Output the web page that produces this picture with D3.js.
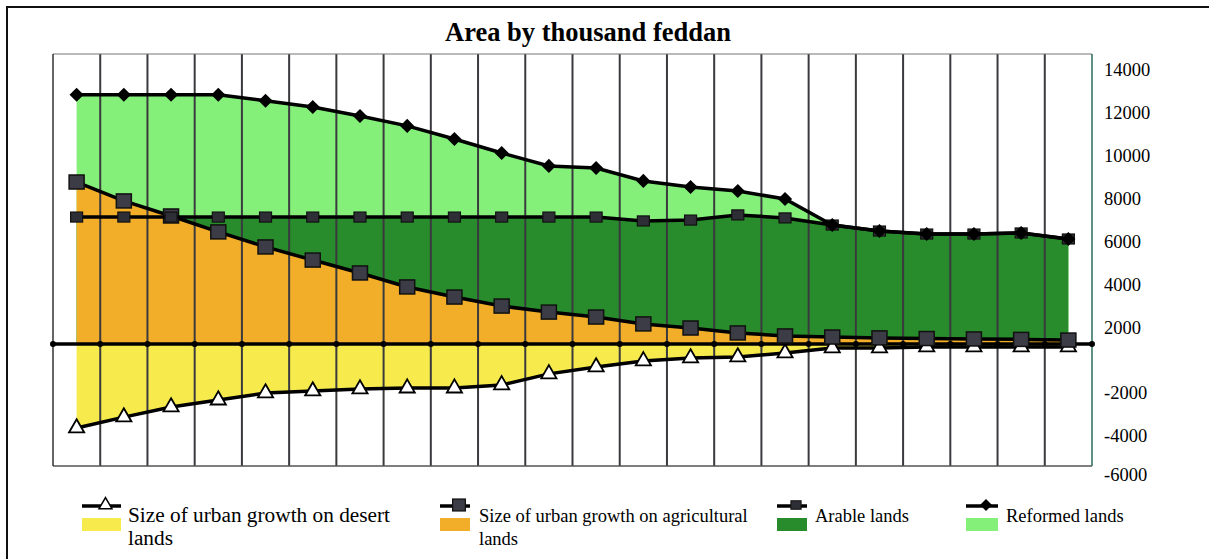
<!DOCTYPE html>
<meta charset="utf-8">
<style>
    body {
        margin: 0;
        overflow: hidden;
        background: #fff;
    }

    text {
      font-family: "Liberation Serif", "Times New Roman", serif;
      fill: #000;
    }

</style>
<svg id="canvas" width="1209" height="559"></svg>
<script src="https://d3js.org/d3.v7.min.js"></script>
<script>

    // one point per period, no labels on the x axis
    var periods = [1, 2, 3, 4, 5, 6, 7, 8, 9, 10, 11, 12, 13, 14, 15, 16, 17, 18, 19, 20, 21, 22];

    var reformed = [12850, 12850, 12850, 12850, 12570, 12280, 11860, 11400, 10790, 10140, 9540, 9440,
                    8840, 8560, 8370, 8000, 6790, 6510, 6370, 6370, 6420, 6140];
    var arable = [7160, 7160, 7160, 7160, 7160, 7160, 7160, 7160, 7160, 7160, 7160, 7160,
                  6980, 7020, 7260, 7120, 6790, 6510, 6370, 6370, 6420, 6140];
    var agricultural = [8790, 7910, 7210, 6470, 5770, 5160, 4560, 3910, 3440, 3020, 2740, 2510,
                        2190, 2000, 1770, 1630, 1580, 1540, 1510, 1490, 1470, 1440];
    var desert = [-3630, -3120, -2650, -2330, -2000, -1920, -1840, -1800, -1800, -1670, -1220, -940,
                  -690, -570, -530, -370, -160, -160, -120, -120, -120, -120];

    var upperTicks = [2000, 4000, 6000, 8000, 10000, 12000, 14000];
    var lowerTicks = [-2000, -4000, -6000];

    var legendLabels = [
        ["Size of urban growth on desert", "lands"],
        ["Size of urban growth on agricultural", "lands"],
        ["Arable lands"],
        ["Reformed lands"]
    ];

    var colors = {
        reformed: "#84f07a",
        arable: "#288b2c",
        agricultural: "#f2ae29",
        desert: "#f6ea4c"
    };

    var serif = "'Liberation Serif', 'Times New Roman', serif";

    var svg = d3.select("svg");

    var plotLeft = 53, plotRight = 1092, plotTop = 54, plotBottom = 466;

    var x = d3.scaleBand().domain(periods).range([plotLeft, plotRight]);
    var cx = function(i) { return x(periods[i]) + x.bandwidth() / 2; };

    // the picture uses separate spacing above and below the zero line
    var yPos = d3.scaleLinear().domain([0, 14000]).range([371, 70]);
    var yNeg = d3.scaleLinear().domain([-6000, -4000, -2000, 0]).range([475, 436, 393, 344]);
    var zero = yNeg(0);

    // outer frame
    svg.append("path")
       .attr("d", "M7,559V7H1209")
       .attr("fill", "none")
       .attr("stroke", "#111")
       .attr("stroke-width", 2);

    svg.append("text")
       .attr("x", 588)
       .attr("y", 41)
       .attr("text-anchor", "middle")
       .attr("font-family", serif)
       .attr("font-weight", "bold")
       .attr("font-size", "26.5px")
       .text("Area by thousand feddan");

    var areaOf = function(values, scale) {
        return d3.area()
                 .x(function(d, i) { return cx(i); })
                 .y0(zero)
                 .y1(function(d) { return scale(d); })(values);
    };

    var areas = svg.append("g").attr("class", "areas");
    areas.append("path").attr("d", areaOf(reformed, yPos)).attr("fill", colors.reformed);
    areas.append("path").attr("d", areaOf(arable, yPos)).attr("fill", colors.arable);
    areas.append("path").attr("d", areaOf(agricultural, yPos)).attr("fill", colors.agricultural);
    areas.append("path").attr("d", areaOf(desert, yNeg)).attr("fill", colors.desert);

    // vertical grid
    var bounds = periods.map(function(p) { return x(p); }).concat([plotRight]);

    svg.append("g")
       .selectAll("line")
       .data(bounds.slice(1, -1))
       .enter().append("line")
       .attr("x1", function(d) { return d; })
       .attr("x2", function(d) { return d; })
       .attr("y1", plotTop)
       .attr("y2", plotBottom)
       .attr("stroke", "#3a3a3e")
       .attr("stroke-width", 2);

    var frame = svg.append("g");
    frame.append("line").attr("x1", plotLeft).attr("x2", plotRight).attr("y1", plotTop).attr("y2", plotTop)
         .attr("stroke", "#777").attr("stroke-width", 1.2);
    frame.append("line").attr("x1", plotLeft).attr("x2", plotRight).attr("y1", plotBottom).attr("y2", plotBottom)
         .attr("stroke", "#555").attr("stroke-width", 1.5);
    frame.append("line").attr("x1", plotLeft).attr("x2", plotLeft).attr("y1", plotTop).attr("y2", plotBottom)
         .attr("stroke", "#333").attr("stroke-width", 1.5);
    frame.append("line").attr("x1", plotRight).attr("x2", plotRight).attr("y1", plotTop).attr("y2", plotBottom)
         .attr("stroke", "#2c6b5c").attr("stroke-width", 1.5);

    // zero line with dots on the grid
    svg.append("line")
       .attr("x1", plotLeft).attr("x2", plotRight)
       .attr("y1", zero).attr("y2", zero)
       .attr("stroke", "#000")
       .attr("stroke-width", 3.5);

    svg.append("g")
       .selectAll("circle")
       .data(bounds)
       .enter().append("circle")
       .attr("cx", function(d) { return d; })
       .attr("cy", zero)
       .attr("r", 3)
       .attr("fill", "#000");

    var lineOf = function(values, scale) {
        return d3.line()
                 .x(function(d, i) { return cx(i); })
                 .y(function(d) { return scale(d); })(values);
    };

    var markers = {
        triangle: function(g) {
            g.append("path")
             .attr("d", d3.symbol(d3.symbolTriangle, 100)())
             .attr("fill", "#fff")
             .attr("stroke", "#000")
             .attr("stroke-width", 1.8);
        },
        bigSquare: function(g) {
            g.append("rect")
             .attr("x", -7.5).attr("y", -7)
             .attr("width", 15).attr("height", 14)
             .attr("fill", "#3c3c46")
             .attr("stroke", "#111")
             .attr("stroke-width", 1.5);
        },
        square: function(g) {
            g.append("rect")
             .attr("x", -6).attr("y", -5)
             .attr("width", 12).attr("height", 10)
             .attr("fill", "#2e2e36")
             .attr("stroke", "#111")
             .attr("stroke-width", 1.2);
        },
        diamond: function(g) {
            g.append("path")
             .attr("d", d3.symbol(d3.symbolSquare, 100)())
             .attr("transform", "rotate(45)")
             .attr("fill", "#000");
        }
    };

    var series = [
        {values: desert, scale: yNeg, marker: markers.triangle},
        {values: agricultural, scale: yPos, marker: markers.bigSquare},
        {values: arable, scale: yPos, marker: markers.square},
        {values: reformed, scale: yPos, marker: markers.diamond}
    ];

    series.forEach(function(s) {
        svg.append("path")
           .attr("d", lineOf(s.values, s.scale))
           .attr("fill", "none")
           .attr("stroke", "#000")
           .attr("stroke-width", 3.5);

        svg.append("g")
           .selectAll("g")
           .data(s.values)
           .enter().append("g")
           .attr("transform", function(d, i) { return "translate(" + cx(i) + "," + s.scale(d) + ")"; })
           .each(function() { s.marker(d3.select(this)); });
    });

    // right hand labels
    var styleAxis = function(g) {
        g.select(".domain").remove();
        g.attr("font-family", serif).attr("font-size", "18.5px");
        g.selectAll("text").attr("font-family", serif).attr("font-size", "18.5px");
    };

    svg.append("g")
       .attr("transform", "translate(" + plotRight + ",0)")
       .call(d3.axisRight(yPos).tickValues(upperTicks).tickSize(0).tickPadding(12)
               .tickFormat(function(d) { return String(d); }))
       .call(styleAxis);

    svg.append("g")
       .attr("transform", "translate(" + plotRight + ",0)")
       .call(d3.axisRight(yNeg).tickValues(lowerTicks).tickSize(0).tickPadding(12)
               .tickFormat(function(d) { return String(d); }))
       .call(styleAxis);

    // legend
    var legendPos = [
        {x0: 82, x1: 121, text: 128, size: 21.3, marker: markers.triangle, fill: colors.desert},
        {x0: 440, x1: 470, text: 479, size: 18.5, marker: markers.bigSquare, fill: colors.agricultural},
        {x0: 777, x1: 807, text: 815, size: 18.5, marker: markers.square, fill: colors.arable},
        {x0: 966, x1: 998, text: 1006, size: 18.5, marker: markers.diamond, fill: colors.reformed}
    ];

    legendPos.forEach(function(p, i) {
        var g = svg.append("g");
        g.append("rect")
         .attr("x", p.x0).attr("y", 518)
         .attr("width", p.x1 - p.x0).attr("height", 13)
         .attr("fill", p.fill);
        g.append("line")
         .attr("x1", p.x0).attr("x2", p.x1)
         .attr("y1", 506).attr("y2", 506)
         .attr("stroke", "#000")
         .attr("stroke-width", 3.5);
        var m = g.append("g")
                 .attr("transform", "translate(" + ((p.x0 + p.x1) / 2 + 4) + ",505) scale(0.85)");
        p.marker(m);
        var t = g.append("text")
                 .attr("x", p.text)
                 .attr("y", 522)
                 .attr("font-family", serif)
                 .attr("font-size", p.size + "px");
        legendLabels[i].forEach(function(line, k) {
            t.append("tspan")
             .attr("x", p.text)
             .attr("dy", k === 0 ? 0 : 23)
             .text(line);
        });
    });

</script>
